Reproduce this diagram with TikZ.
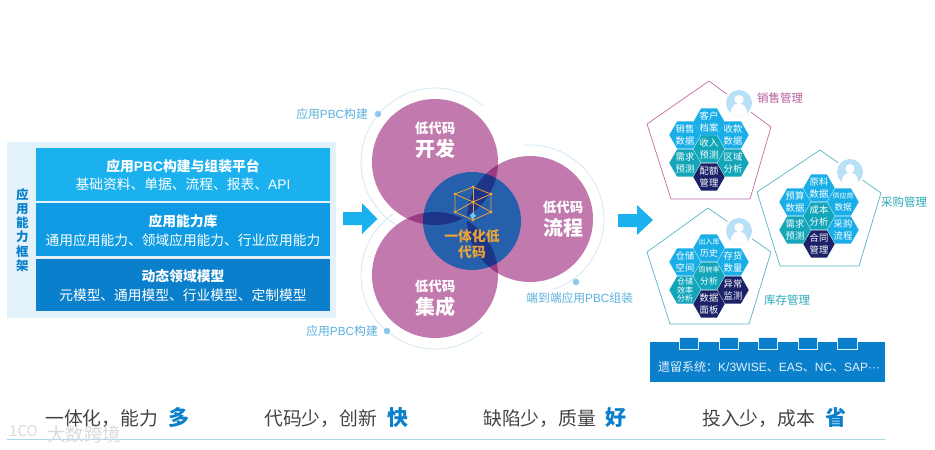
\documentclass[tikz,border=0pt]{standalone}
\usepackage{fontspec}
\setmainfont{Noto Sans CJK SC}
\newfontfamily\lat{Liberation Sans}
\newcommand{\fs}[1]{\fontsize{#1}{#1}\selectfont}
\definecolor{bluea}{HTML}{1BB1EE}
\definecolor{blueb}{HTML}{0E9BE3}
\definecolor{bluec}{HTML}{0A7FCB}
\definecolor{panelbg}{HTML}{E3F2FA}
\definecolor{hexblue}{HTML}{1AAEE8}
\definecolor{hexteal}{HTML}{13A6B9}
\definecolor{hexnavy}{HTML}{1C2268}
\definecolor{purp}{HTML}{C279AE}
\definecolor{purpdark}{HTML}{9A3A80}
\definecolor{midblue}{HTML}{2660AC}
\definecolor{middark}{HTML}{1E3488}
\definecolor{orangeicon}{HTML}{E8A33A}
\definecolor{ringc}{HTML}{CFE6F4}
\definecolor{dotc}{HTML}{8CC8EA}
\definecolor{labelc}{HTML}{5BB0DC}
\definecolor{pentp}{HTML}{C36CA8}
\definecolor{pentt}{HTML}{55B7C6}
\definecolor{tealtxt}{HTML}{2AA7B8}
\definecolor{purptxt}{HTML}{B35C9C}
\definecolor{avatar}{HTML}{B8E0F7}
\definecolor{bottomline}{HTML}{A8D8EE}
\definecolor{greytxt}{HTML}{444444}
\tikzset{
  layerbox/.style={fill=#1,draw=none},
  boxtext/.style={text=white,align=center,inner sep=0pt},
  ringline/.style={draw=ringc,line width=0.7pt},
  ringdot/.style={circle,fill=dotc,inner sep=0pt,minimum size=6.5pt},
  smalllabel/.style={text=labelc,inner sep=0pt,font=\fs{11.8}},
  circletext/.style={text=white,align=center,inner sep=0pt},
  penta/.style={draw=#1,line width=0.7pt,line join=miter},
  hextext/.style={text=white,align=center,inner sep=0pt,font=\fontsize{9.3}{11.6}\selectfont},
  hexsmall/.style={font=\fontsize{8}{8.4}\selectfont},
  cubeline/.style={draw=orangeicon,line width=0.8pt},
  cubedot/.style={circle,fill=orangeicon,inner sep=0pt,minimum size=3.4pt},
  bigarrow/.style={fill=bluea,draw=none},
  mgmt/.style={inner sep=0pt,font=\fs{11.5}},
  slogan/.style={text=greytxt,inner sep=0pt,anchor=west,font=\fs{18.8}},
  sloganbig/.style={text=bluec,inner sep=0pt,anchor=west,font=\bfseries\fs{21}},
}
\newcommand{\hexa}[6][]{% style name x y colour text
  \fill[#5] (#3-15.7,#4) -- (#3-7.9,#4-13.6) -- (#3+7.9,#4-13.6) -- (#3+15.7,#4) -- (#3+7.9,#4+13.6) -- (#3-7.9,#4+13.6) -- cycle;
  \node[hextext,#1] (#2) at (#3,#4) {#6};
}
\newcommand{\avatarat}[3]{% name x y
  \fill[white] (#2,#3) circle (15);
  \node[circle,fill=avatar,inner sep=0pt,minimum size=26pt] (#1) at (#2,#3) {};
  \begin{scope}
    \clip (#2,#3) circle (13);
    \fill[white] (#2,#3-3.5) circle (4.6);
    \fill[white] (#2,#3+9) ellipse (8 and 8.5);
  \end{scope}
}
\begin{document}
\begin{tikzpicture}[x=1pt,y=-1pt]
\useasboundingbox (0,0) rectangle (935,450);
\fill[white] (0,0) rectangle (935,450);

% left panel
\fill[panelbg] (7,142) rectangle (336,318);
\fill[layerbox=bluea] (36,148) rectangle (330,201);
\fill[layerbox=blueb] (36,203) rectangle (330,256);
\fill[layerbox=bluec] (36,259) rectangle (330,311);
\node[text=bluec,align=center,inner sep=0pt,font=\bfseries\fontsize{12.5}{14.2}\selectfont] (side) at (22.5,230) {应\\用\\能\\力\\框\\架};
\node[boxtext,font=\bfseries\fs{13.8}] (t1a) at (183,166) {应用{\lat PBC}构建与组装平台};
\node[boxtext,font=\fs{13.75}] (t1b) at (183,184.5) {基础资料、单据、流程、报表、{\lat API}};
\node[boxtext,font=\bfseries\fs{13.8}] (t2a) at (183,221) {应用能力库};
\node[boxtext,font=\fs{13.75}] (t2b) at (183,240) {通用应用能力、领域应用能力、行业应用能力};
\node[boxtext,font=\bfseries\fs{13.8}] (t3a) at (183,276) {动态领域模型};
\node[boxtext,font=\fs{13.75}] (t3b) at (183,295) {元模型、通用模型、行业模型、定制模型};

% arrows
\fill[bigarrow] (343,212) -- (362,212) -- (362,203) -- (377.5,219) -- (362,234) -- (362,225) -- (343,225) -- cycle;
\fill[bigarrow] (618,214) -- (637,214) -- (637,205) -- (653,220) -- (637,235) -- (637,227) -- (618,227) -- cycle;

% rings
\draw[ringline] plot[smooth,domain=49:240,samples=70] ({435+74*cos(\x)},{162-74*sin(\x)});
\draw[ringline] plot[smooth,domain=124:310,samples=70] ({435+74*cos(\x)},{275-74*sin(\x)});
\draw[ringline] plot[smooth,domain=95:-72,samples=70] ({530+74*cos(\x)},{219-74*sin(\x)});

% circles
\coordinate (ck) at (435,162);
\coordinate (cl) at (530,219);
\coordinate (cj) at (435,275);
\coordinate (cm) at (472,221);
\fill[purp] (ck) circle (63);
\fill[purp] (cl) circle (63);
\fill[purp] (cj) circle (63);
\begin{scope}\clip (ck) circle (63); \fill[purpdark] (cl) circle (63); \fill[purpdark] (cj) circle (63);\end{scope}
\begin{scope}\clip (cl) circle (63); \fill[purpdark] (cj) circle (63);\end{scope}
\fill[midblue] (cm) circle (49);
\begin{scope}
  \clip (cm) circle (49);
  \begin{scope}\clip (ck) circle (63); \fill[middark] (cl) circle (63); \fill[middark] (cj) circle (63);\end{scope}
  \begin{scope}\clip (cl) circle (63); \fill[middark] (cj) circle (63);\end{scope}
\end{scope}

% dots & labels
\node[ringdot] (d1) at (378,114) {};
\node[ringdot] (d2) at (387,331) {};
\node[ringdot] (d3) at (576,282) {};
\node[smalllabel,anchor=east] (l1) at (368,114) {应用{\lat PBC}构建};
\node[smalllabel,anchor=east] (l2) at (378,331) {应用{\lat PBC}构建};
\node[smalllabel,anchor=west] (l3) at (526,298) {端到端应用{\lat PBC}组装};

% circle text
\node[circletext,font=\bfseries\fs{13.5}] (k1) at (435,128) {低代码};
\node[circletext,font=\bfseries\fs{20}] (k2) at (435,149) {开发};
\node[circletext,font=\bfseries\fs{13.5}] (f1) at (563,207.5) {低代码};
\node[circletext,font=\bfseries\fs{20}] (f2) at (563,228) {流程};
\node[circletext,font=\bfseries\fs{13.5}] (j1) at (435,286.5) {低代码};
\node[circletext,font=\bfseries\fs{20}] (j2) at (435,307) {集成};

% cube
\coordinate (ctop) at (473,187);
\coordinate (cul) at (455,194);
\coordinate (cur) at (491,194);
\coordinate (cc) at (473,202);
\coordinate (cll) at (455,212);
\coordinate (clr) at (491,212);
\coordinate (cb) at (473,220);
\draw[cubeline] (ctop) -- (cul) -- (cc) -- (cur) -- cycle;
\draw[cubeline] (cul) -- (cll) -- (cb) -- (clr) -- (cur);
\draw[cubeline] (ctop) -- (cb);
\draw[cubeline] (cll) -- (cc) -- (clr);
\foreach \p in {ctop,cul,cur,cc,cll,clr,cb} \node[cubedot] at (\p) {};
\fill[cyan!60!white] (470,215) -- (473,212.5) -- (476,216) -- (472,219) -- cycle;
\node[text=orangeicon,align=center,inner sep=0pt,font=\bfseries\fontsize{13.8}{16}\selectfont] (mid) at (472,244) {一体化低\\代码};

% pentagons
\draw[penta=pentp] (709,81) -- (771,127) -- (750,199) -- (671,199) -- (647,124) -- cycle;
\draw[penta=pentt] (820,150) -- (881,193) -- (859,266) -- (780,266) -- (757,192) -- cycle;
\draw[penta=pentt] (708,208) -- (771,252) -- (749,324) -- (670,324) -- (647,252) -- cycle;

\avatarat{av1}{739}{103}
\avatarat{av2}{850}{172}
\avatarat{av3}{739}{231}

\node[mgmt,text=purptxt,anchor=west] (m1) at (757,98) {销售管理};
\node[mgmt,text=tealtxt,anchor=west] (m2) at (881,202) {采购管理};
\node[mgmt,text=tealtxt,anchor=west] (m3) at (764,300) {库存管理};

% hexagons: sales
\hexa{s1}{709}{122}{hexblue}{客户\\档案}
\hexa{s2}{685}{135}{hexblue}{销售\\数据}
\hexa{s3}{733}{135}{hexblue}{收款\\数据}
\hexa{s4}{709}{149}{hexteal}{收入\\预测}
\hexa{s5}{685}{163}{hexteal}{需求\\预测}
\hexa{s6}{733}{163}{hexteal}{区域\\分析}
\hexa{s7}{709}{177}{hexnavy}{配额\\管理}
% purchase
\hexa{p1}{819}{188}{hexblue}{原料\\数据}
\hexa{p2}{795}{202}{hexblue}{预算\\数据}
\hexa{p3}{843}{202}{hexblue}{\fontsize{7}{12}\selectfont 供应商\\\fontsize{8.5}{12}\selectfont 数据}
\hexa{p4}{819}{216}{hexteal}{成本\\分析}
\hexa{p5}{795}{230}{hexteal}{需求\\预测}
\hexa{p6}{843}{230}{hexblue}{采购\\流程}
\hexa{p7}{819}{244}{hexnavy}{合同\\管理}
% stock
\hexa{w1}{709}{248}{hexblue}{\fontsize{7}{12}\selectfont 出入库\\\fontsize{8.8}{12}\selectfont 历史}
\hexa{w2}{685}{262}{hexblue}{仓储\\空间}
\hexa{w3}{733}{262}{hexblue}{存货\\数量}
\hexa{w4}{709}{276}{hexteal}{\fontsize{7}{12}\selectfont 周转率\\\fontsize{8.8}{12}\selectfont 分析}
\hexa[hexsmall]{w5}{685}{290}{hexteal}{仓储\\效率\\分析}
\hexa{w6}{733}{290}{hexnavy}{异常\\监测}
\hexa{w7}{709}{304}{hexnavy}{数据\\面板}

% legacy
\fill[bluec] (650,342) rectangle (885,382);
\foreach \a/\b in {679/698,719/738,758/777,798/817,837/857}
  \draw[fill=bluec,draw=panelbg,line width=0.7pt] (\a,337) rectangle (\b,349);
\node[text=panelbg,inner sep=0pt,anchor=west,font=\fs{12}] (legacy) at (658,367) {遗留系统：{\lat K/3WISE}、{\lat EAS}、{\lat NC}、{\lat SAP···}};

% bottom
\draw[bottomline,line width=0.8pt] (7,439.5) -- (885,439.5);
\node[slogan] (b1) at (45,419) {一体化，能力};
\node[sloganbig] (b1x) at (168,418) {多};
\node[slogan] (b2) at (264,419) {代码少，创新};
\node[sloganbig] (b2x) at (387,418) {快};
\node[slogan] (b3) at (483,419) {缺陷少，质量};
\node[sloganbig] (b3x) at (605,418) {好};
\node[slogan] (b4) at (702,419) {投入少，成本};
\node[sloganbig] (b4x) at (825,418) {省};
% watermark
\node[text=gray!28,inner sep=0pt,anchor=west,font=\fs{15}] (wm1) at (9,431) {1CO};
\node[text=gray!28,inner sep=0pt,anchor=west,font=\fs{18.5}] (wm2) at (47,434) {大数跨境};
\end{tikzpicture}
\end{document}
